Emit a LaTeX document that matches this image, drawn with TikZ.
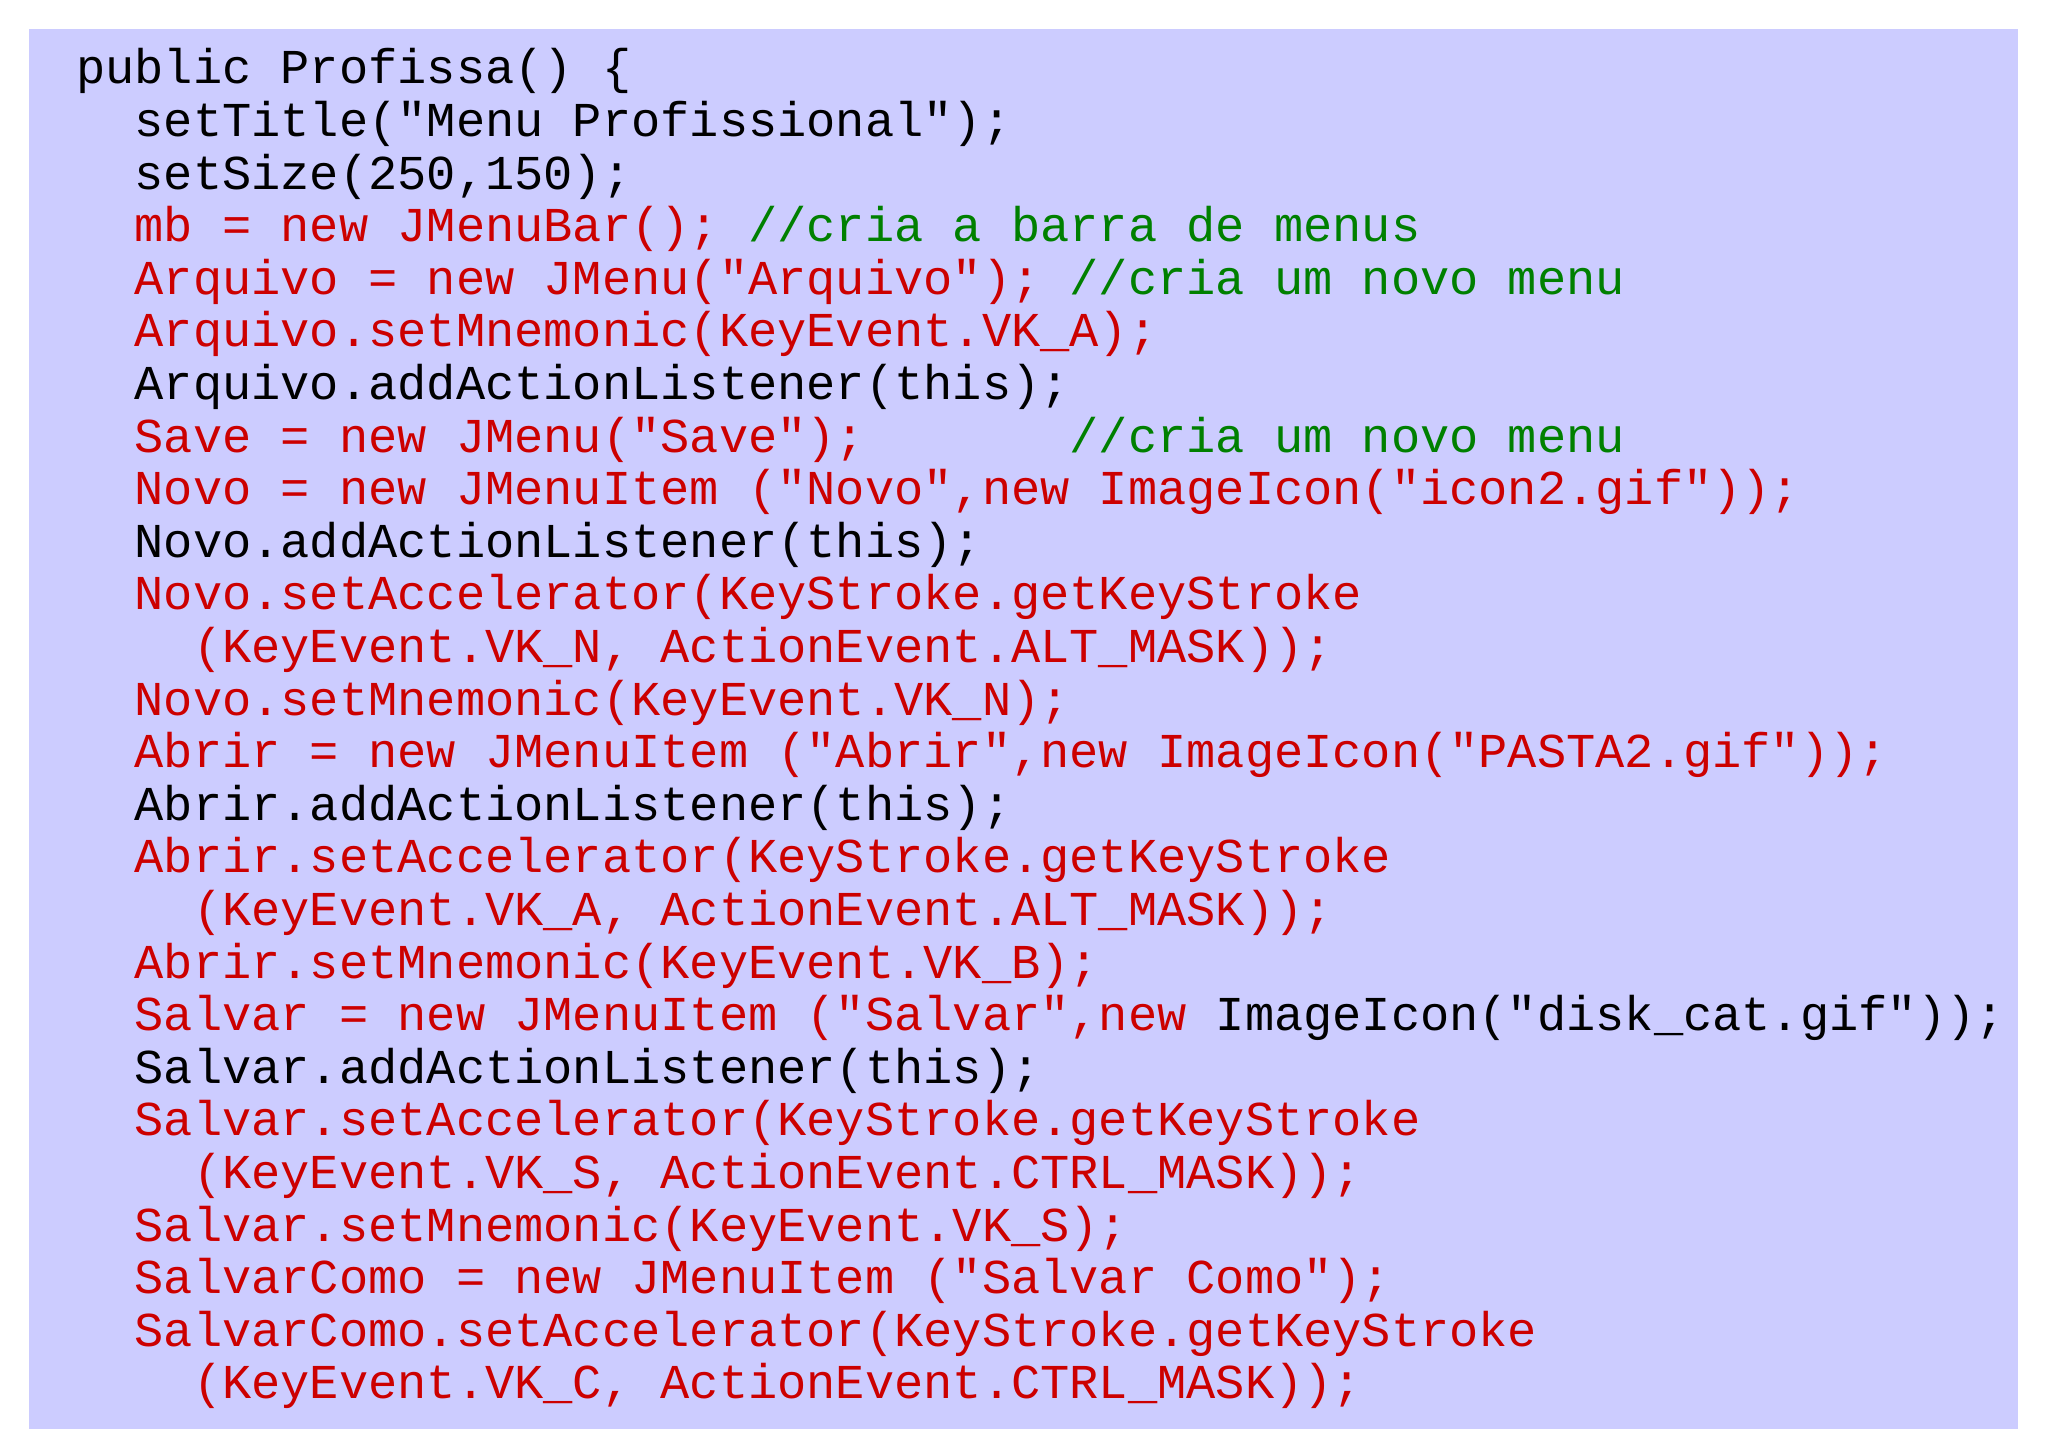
\documentclass[tikz,border=0pt]{standalone}
\usepackage{fontspec}
\setmonofont{Liberation Mono}
\definecolor{bgc}{HTML}{CCCCFF}
\definecolor{cred}{HTML}{CC0000}
\definecolor{cgreen}{HTML}{008000}
\newcommand\cl[4]{\node[anchor=base west,inner sep=0,text=#3,font=\ttfamily\fontsize{48.7}{52}\selectfont] at ({76+#1*29.22pt},{1363pt-#2*52.6pt}) {#4};}
\begin{document}
\begin{tikzpicture}[x=1pt,y=1pt]
\useasboundingbox (0,0) rectangle (2048,1447);
\fill[bgc] (29,18) rectangle (2018,1418);
\cl{0}{0}{black}{public Profissa() \{}
\cl{2}{1}{black}{setTitle("Menu Profissional");}
\cl{2}{2}{black}{setSize(250,150);}
\cl{2}{3}{cred}{mb = new JMenuBar();}
\cl{23}{3}{cgreen}{//cria a barra de menus}
\cl{2}{4}{cred}{Arquivo = new JMenu("Arquivo");}
\cl{34}{4}{cgreen}{//cria um novo menu}
\cl{2}{5}{cred}{Arquivo.setMnemonic(KeyEvent.VK\_A);}
\cl{2}{6}{black}{Arquivo.addActionListener(this);}
\cl{2}{7}{cred}{Save = new JMenu("Save");}
\cl{34}{7}{cgreen}{//cria um novo menu}
\cl{2}{8}{cred}{Novo = new JMenuItem ("Novo",new ImageIcon("icon2.gif"));}
\cl{2}{9}{black}{Novo.addActionListener(this);}
\cl{2}{10}{cred}{Novo.setAccelerator(KeyStroke.getKeyStroke}
\cl{4}{11}{cred}{(KeyEvent.VK\_N, ActionEvent.ALT\_MASK));}
\cl{2}{12}{cred}{Novo.setMnemonic(KeyEvent.VK\_N);}
\cl{2}{13}{cred}{Abrir = new JMenuItem ("Abrir",new ImageIcon("PASTA2.gif"));}
\cl{2}{14}{black}{Abrir.addActionListener(this);}
\cl{2}{15}{cred}{Abrir.setAccelerator(KeyStroke.getKeyStroke}
\cl{4}{16}{cred}{(KeyEvent.VK\_A, ActionEvent.ALT\_MASK));}
\cl{2}{17}{cred}{Abrir.setMnemonic(KeyEvent.VK\_B);}
\cl{2}{18}{cred}{Salvar = new JMenuItem ("Salvar",new}
\cl{39}{18}{black}{ImageIcon("disk\_cat.gif"));}
\cl{2}{19}{black}{Salvar.addActionListener(this);}
\cl{2}{20}{cred}{Salvar.setAccelerator(KeyStroke.getKeyStroke}
\cl{4}{21}{cred}{(KeyEvent.VK\_S, ActionEvent.CTRL\_MASK));}
\cl{2}{22}{cred}{Salvar.setMnemonic(KeyEvent.VK\_S);}
\cl{2}{23}{cred}{SalvarComo = new JMenuItem ("Salvar Como");}
\cl{2}{24}{cred}{SalvarComo.setAccelerator(KeyStroke.getKeyStroke}
\cl{4}{25}{cred}{(KeyEvent.VK\_C, ActionEvent.CTRL\_MASK));}
\end{tikzpicture}
\end{document}
